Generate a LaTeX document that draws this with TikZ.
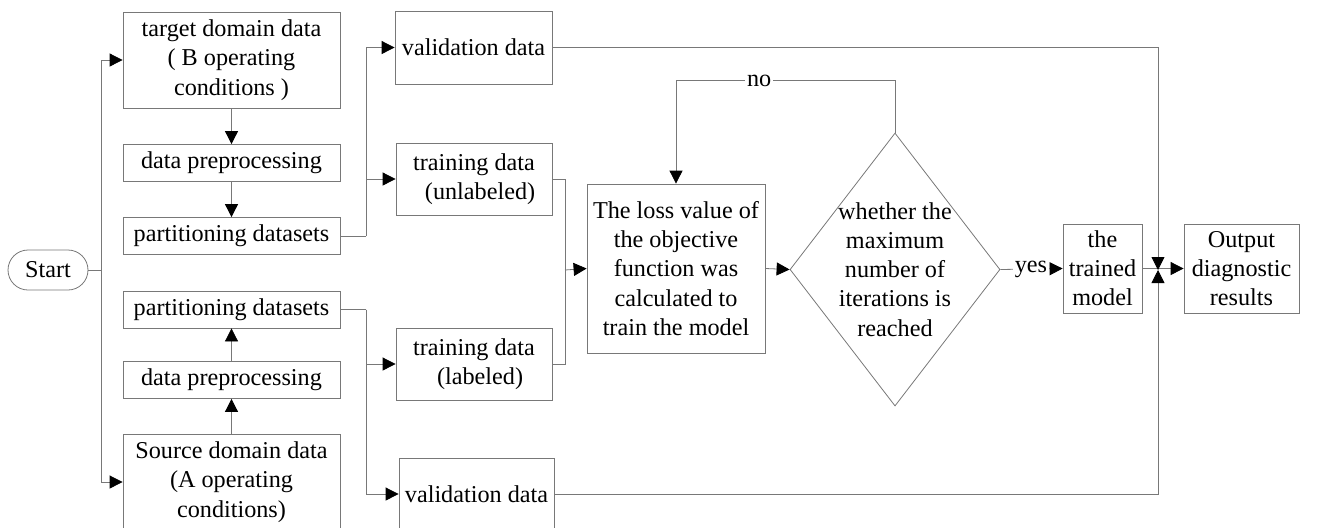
\documentclass[tikz,border=0pt]{standalone}
\usepackage{fontspec}
\setmainfont{Liberation Serif}
\usetikzlibrary{arrows.meta, positioning, calc, shapes.geometric}
\definecolor{linec}{RGB}{120,120,120}
\tikzset{
  txt/.style={inner sep=0pt, align=center, font=\fontsize{12.1}{14.6}\selectfont},
  proc/.style={txt, draw=linec, fill=white},
  term/.style={proc, rounded corners=10pt, minimum width=40pt, minimum height=20pt},
  dec/.style={diamond, draw=linec, inner sep=0pt, minimum width=105pt,
              minimum height=136.5pt},
  flow/.style={draw=linec, -{Triangle[length=6.5pt, width=6.5pt, color=black]}},
  wire/.style={draw=linec},
  tag/.style={txt, fill=white, inner sep=1pt},
}

\begin{document}
\begin{tikzpicture}[x=0.5pt, y=-0.5pt]
  \useasboundingbox (0,0) rectangle (1317,527);

  % start and the two data columns
  \node[term] (start) at (48,270) {Start};
  \node[proc, minimum width=108.5pt, minimum height=48pt] (tgt) at (231.5,60)
    {target domain data\\( B operating\\conditions )};
  \node[proc, minimum width=108.5pt, minimum height=18.5pt] (prepT) at (231.5,163)
    {data preprocessing};
  \node[proc, minimum width=108.5pt, minimum height=18.5pt] (partT) at (231.5,236)
    {partitioning datasets};
  \node[proc, minimum width=108.5pt, minimum height=18.5pt] (partS) at (231.5,309.5)
    {partitioning datasets};
  \node[proc, minimum width=108.5pt, minimum height=18.5pt] (prepS) at (231.5,380)
    {data preprocessing};
  \node[proc, minimum width=108.5pt, minimum height=48pt] (src) at (231.5,482)
    {Source domain data\\(A operating\\conditions)};

  % split datasets
  \node[proc, minimum width=78.5pt, minimum height=36.5pt] (valT) at (473.5,47.5)
    {validation data};
  \node[proc, minimum width=78pt, minimum height=36pt] (trU) at (474,179)
    {training data\\\hspace{.5em}(unlabeled)\hspace{.5em}};
  \node[proc, minimum width=78pt, minimum height=36pt] (trL) at (474,364)
    {training data\\\hspace{.5em}(labeled)\hspace{.5em}};
  \node[proc, minimum width=77.5pt, minimum height=36pt] (valS) at (476.5,494)
    {validation data};

  % training loop
  \node[proc, minimum width=89pt, minimum height=84.5pt] (loss) at (676,268.5)
    {The loss value of\\the objective\\function was\\calculated to\\train the model};
  \node[dec] (chk) at (895,269.5) {};
  \node[txt] at (chk) {whether the\\maximum\\number of\\iterations is\\reached};
  \node[proc, minimum width=39.5pt, minimum height=44.5pt] (trd) at (1102.5,268.5)
    {the\\trained\\model};
  \node[proc, minimum width=57.5pt, minimum height=44.5pt] (out) at (1241.5,268.5)
    {Output\\diagnostic\\results};

  \coordinate (split) at (101,270);
  \coordinate (forkT) at (366,236);
  \coordinate (forkS) at (366,309.5);
  \coordinate (merge) at (565,270);
  \coordinate (jn) at (1158,270);

  % connectors
  \draw[wire] (start.east) -- (split);
  \draw[flow] (split) |- (tgt.west);
  \draw[flow] (split) |- (src.west);
  \draw[flow] (tgt) -- (prepT);
  \draw[flow] (prepT) -- (partT);
  \draw[flow] (src) -- (prepS);
  \draw[flow] (prepS) -- (partS);

  \draw[wire] (partT.east) -- (forkT);
  \draw[flow] (forkT) |- (valT.west);
  \draw[flow] (forkT) |- (trU.west);
  \draw[wire] (partS.east) -- (forkS);
  \draw[flow] (forkS) |- (trL.west);
  \draw[flow] (forkS) |- (valS.west);

  \draw[wire] (trU.east) -| (merge);
  \draw[wire] (trL.east) -| (merge);
  \draw[flow] (merge) -- (loss.west);
  \draw[flow] (loss.east) -- (chk.west);
  \draw[flow] (chk.north) -- ++(0,-52) -| node[tag, pos=.31] {no} (loss.north);
  \draw[flow] (chk.east) -- node[tag, pos=.49] {yes} (trd.west);
  \draw[flow] (trd.east) -- (out.west);
  \draw[flow] (valT.east) -| (jn);
  \draw[flow] (valS.east) -| (jn);
\end{tikzpicture}
\end{document}
